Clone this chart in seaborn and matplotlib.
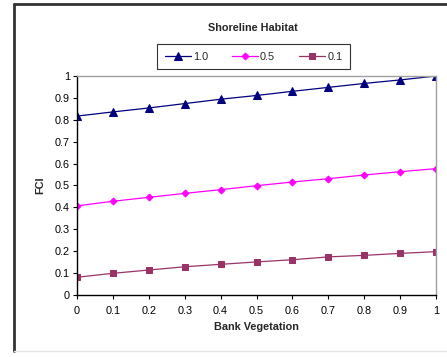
import pandas as pd
import numpy as np
import seaborn as sns
from matplotlib import pyplot as plt
from matplotlib.lines import Line2D

bank_veg = [0, 0.1, 0.2, 0.3, 0.4, 0.5, 0.6, 0.7, 0.8, 0.9, 1.0]
fci_10 = [0.817, 0.836, 0.854, 0.874, 0.894, 0.911, 0.930, 0.948, 0.966, 0.982, 1.0]
fci_05 = [0.407, 0.428, 0.446, 0.464, 0.481, 0.499, 0.516, 0.531, 0.548, 0.563, 0.577]
fci_01 = [0.081, 0.099, 0.114, 0.129, 0.140, 0.151, 0.161, 0.174, 0.181, 0.190, 0.198]
series_names = ['1.0', '0.5', '0.1']

sns.set_style('white')
plt.rcParams['font.family'] = ['Liberation Sans', 'DejaVu Sans']

df = pd.DataFrame({'Bank Vegetation': bank_veg * 3,
                   'FCI': fci_10 + fci_05 + fci_01,
                   'series': np.repeat(series_names, len(bank_veg))})

fig = plt.figure(figsize=(4.47, 3.57), dpi=100)
ax = fig.add_axes([77/447, 62/357, 359/447, 219/357])

colors = {'1.0': '#000080', '0.5': '#FF00FF', '0.1': '#993366'}
markers = {'1.0': '^', '0.5': 'D', '0.1': 's'}
msize = {'1.0': 5.5, '0.5': 3.5, '0.1': 4.5}
for s in series_names:
    sns.lineplot(data=df[df['series'] == s], x='Bank Vegetation', y='FCI',
                 color=colors[s], marker=markers[s], markersize=msize[s],
                 markeredgecolor=colors[s], linewidth=0.9, label=s, ax=ax)

ax.set_xlim(0, 1)
ax.set_ylim(0, 1)
ax.set_xticks(bank_veg)
ax.set_xticklabels(['0', '0.1', '0.2', '0.3', '0.4', '0.5', '0.6', '0.7', '0.8', '0.9', '1'])
ax.set_yticks(np.arange(0, 1.01, 0.1))
ax.set_yticklabels(['0', '0.1', '0.2', '0.3', '0.4', '0.5', '0.6', '0.7', '0.8', '0.9', '1'])
ax.tick_params(axis='both', labelsize=7.8, colors='black', length=3, width=0.8,
               direction='out', bottom=True, left=True)
ax.tick_params(axis='x', pad=5)
ax.tick_params(axis='y', pad=2)
for sp in ['left', 'bottom']:
    ax.spines[sp].set_color('black')
    ax.spines[sp].set_linewidth(1)
for sp in ['top', 'right']:
    ax.spines[sp].set_color('#a0a0a0')
    ax.spines[sp].set_linewidth(1)
ax.set_xlabel('Bank Vegetation', fontsize=7.8, fontweight='bold', labelpad=4)
ax.set_ylabel('FCI', fontsize=7.8, fontweight='bold', labelpad=7)

leg = ax.legend(ncol=3, loc='center', bbox_to_anchor=(253.5/447, 1 - 56.5/357),
                bbox_transform=fig.transFigure, fontsize=7.8, frameon=True,
                fancybox=False, edgecolor='black', handlelength=2.4,
                handletextpad=0.2, columnspacing=2.2, borderpad=0.7)
leg.get_frame().set_linewidth(0.8)

fig.text(253/447, 1 - 28/357, 'Shoreline Habitat', ha='center', va='center',
         fontsize=7.8, fontweight='bold')

# outer chart frame
fig.add_artist(Line2D([13.5/447, 13.5/447], [1 - 351/357, 1 - 3.5/357],
                      transform=fig.transFigure, color='#333333', linewidth=2))
fig.add_artist(Line2D([13.5/447, 1], [1 - 3.5/357, 1 - 3.5/357],
                      transform=fig.transFigure, color='#333333', linewidth=2))
fig.add_artist(Line2D([14/447, 1], [1 - 351/357, 1 - 351/357],
                      transform=fig.transFigure, color='#e6e6e6', linewidth=1))

fig.savefig('out.png', dpi=100)
